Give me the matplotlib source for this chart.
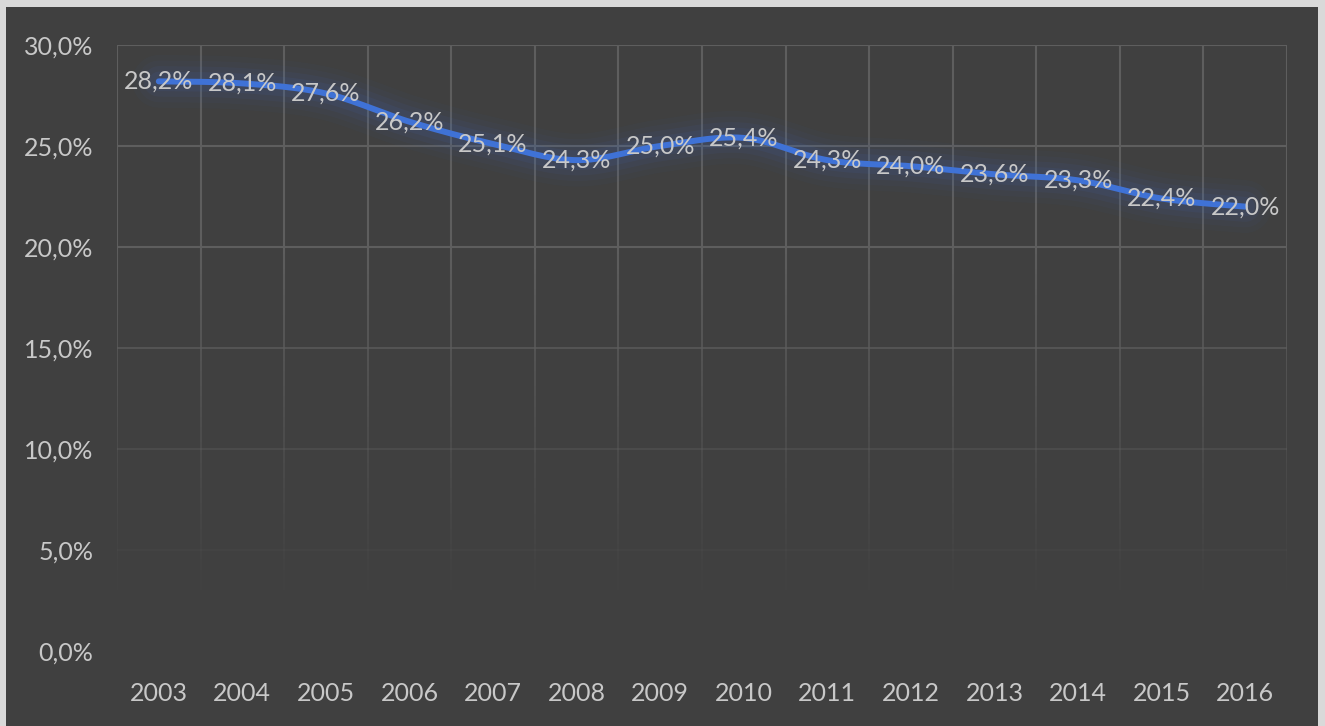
import numpy as np
import matplotlib.pyplot as plt
from matplotlib.patches import Rectangle
from matplotlib.ticker import FuncFormatter

years = ['2003', '2004', '2005', '2006', '2007', '2008', '2009',
         '2010', '2011', '2012', '2013', '2014', '2015', '2016']
values = [28.2, 28.1, 27.6, 26.2, 25.1, 24.3, 25.0,
          25.4, 24.3, 24.0, 23.6, 23.3, 22.4, 22.0]
yticks = [0, 5, 10, 15, 20, 25, 30]

plt.rcParams['font.family'] = ['Lato', 'DejaVu Sans']
bg = '#404040'
txt = '#c8c8c8'
grid = '#5e5e5e'
blue = '#3F72D6'

fig = plt.figure(figsize=(13.25, 7.26), dpi=100, facecolor='#d9d9d9')
fig.patches.append(Rectangle((6/1325, 0), 1312/1325, 1 - 7/726,
                             transform=fig.transFigure, facecolor=bg,
                             edgecolor='none', zorder=-10))
ax = fig.add_axes([117/1325, 1 - 651/726, 1170/1325, (651 - 45)/726])
ax.set_facecolor(bg)
for s in ax.spines.values():
    s.set_visible(False)

n = len(values)
x = np.arange(n)
ax.set_xlim(-0.5, n - 0.5)
ax.set_ylim(0, 30)

# gridlines fading towards the bottom
def fade(y):
    return np.clip((y - 2.0) / 18.0, 0, 1) ** 1.2

for yt in yticks:
    a = fade(yt)
    if a > 0:
        ax.plot([-0.5, n - 0.5], [yt, yt], color=grid, lw=1.5, alpha=a, zorder=1)
ys = np.linspace(0, 30, 120)
for xb in np.arange(-0.5, n, 1.0):
    for i in range(len(ys) - 1):
        a = fade((ys[i] + ys[i + 1]) / 2)
        if a > 0:
            ax.plot([xb, xb], [ys[i], ys[i + 1]], color=grid, lw=1.5,
                    alpha=a, solid_capstyle='butt', zorder=1)

# smoothed line (Catmull-Rom through the points)
px = np.concatenate([[x[0]], x, [x[-1]]]).astype(float)
py = np.concatenate([[values[0]], values, [values[-1]]]).astype(float)
cx, cy = [], []
t = np.linspace(0, 1, 30)
for i in range(1, n):
    p0x, p1x, p2x, p3x = px[i - 1], px[i], px[i + 1], px[i + 2]
    p0y, p1y, p2y, p3y = py[i - 1], py[i], py[i + 1], py[i + 2]
    b1x, b1y = p1x + (p2x - p0x) / 6, p1y + (p2y - p0y) / 6
    b2x, b2y = p2x - (p3x - p1x) / 6, p2y - (p3y - p1y) / 6
    bx = (1-t)**3*p1x + 3*(1-t)**2*t*b1x + 3*(1-t)*t**2*b2x + t**3*p2x
    by = (1-t)**3*p1y + 3*(1-t)**2*t*b1y + 3*(1-t)*t**2*b2y + t**3*p2y
    cx.extend(bx)
    cy.extend(by)

for w, a in [(38, 0.03), (30, 0.04), (22, 0.06), (14, 0.08)]:
    ax.plot(cx, cy, color=blue, lw=w, alpha=a, solid_capstyle='round', zorder=2)
ax.plot(cx, cy, color=blue, lw=4.3, solid_capstyle='round', zorder=3)

for xi, v in zip(x, values):
    ax.text(xi, v, f'{v:.1f}%'.replace('.', ','), ha='center', va='center',
            color=txt, fontsize=18, zorder=4)

ax.set_xticks(x)
ax.set_xticklabels(years)
ax.set_yticks(yticks)
ax.yaxis.set_major_formatter(FuncFormatter(lambda v, p: f'{v:.1f}%'.replace('.', ',')))
ax.tick_params(axis='both', length=0, colors=txt, labelsize=18)
ax.tick_params(axis='x', pad=22)
ax.tick_params(axis='y', pad=17)

fig.savefig('out.png', dpi=100, facecolor=fig.get_facecolor())
